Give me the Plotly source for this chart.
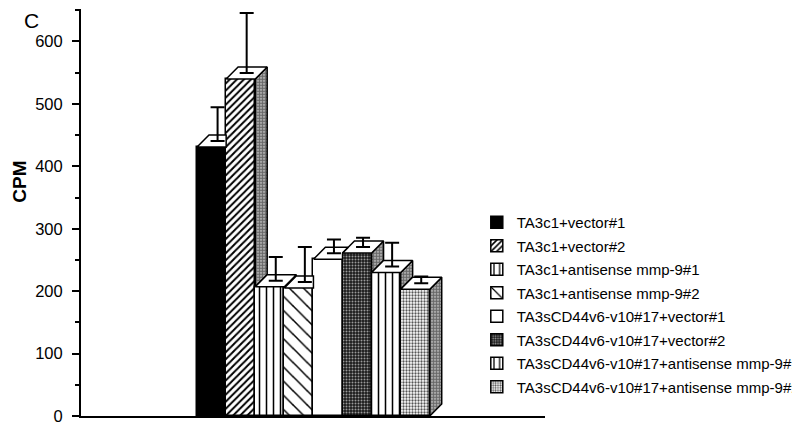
import plotly.graph_objects as go

names = ["TA3c1+vector#1", "TA3c1+vector#2", "TA3c1+antisense mmp-9#1",
         "TA3c1+antisense mmp-9#2", "TA3sCD44v6-v10#17+vector#1",
         "TA3sCD44v6-v10#17+vector#2", "TA3sCD44v6-v10#17+antisense mmp-9#1",
         "TA3sCD44v6-v10#17+antisense mmp-9#2"]
cpm = [431, 540, 207, 205, 251, 261, 230, 203]
err = [54, 96, 38, 56, 22, 15, 38, 11]

# fill styles per bar: (bgcolor, fgcolor, shape, size, solidity)
styles = [
    ("black", "black", "", 8, 0.3),
    ("white", "black", "/", 5, 0.4),
    ("white", "black", "|", 7, 0.22),
    ("white", "black", "\\", 10, 0.15),
    ("white", "black", "", 8, 0.3),
    ("#1a1a1a", "#9a9a9a", ".", 3, 0.35),
    ("white", "black", "|", 7, 0.22),
    ("white", "#555555", ".", 3, 0.45),
]

DX = 0.41   # depth offset along x (bar units)
DY = 19.2   # depth offset along y (CPM units)

fig = go.Figure()

for i, (n, v) in enumerate(zip(names, cpm)):
    bg, fg, shp, sz, sol = styles[i]
    fig.add_trace(go.Bar(
        x=[i], y=[v], width=1, name=n, legendgroup=n,
        marker=dict(color=bg, line=dict(color="black", width=1.5),
                    pattern=dict(shape=shp, bgcolor=bg, fgcolor=fg,
                                 size=sz, solidity=sol, fillmode="replace")),
        hoverinfo="skip"))

# side and top faces for the 3D look
sx, sy, tx, ty = [], [], [], []
for i, v in enumerate(cpm):
    x0, x1 = i - 0.5, i + 0.5
    nxt = cpm[i + 1] if i + 1 < len(cpm) else 0
    if nxt < v:
        sx += [x1, x1 + DX, x1 + DX, x1, x1, None]
        sy += [nxt, nxt + DY, v + DY, v, nxt, None]
    if nxt <= v:
        tx += [x0, x0 + DX, x1 + DX, x1, x0, None]
        ty += [v, v + DY, v + DY, v, v, None]
    elif nxt >= v + DY:
        tx += [x0, x0 + DX, x1, x1, x0, None]
        ty += [v, v + DY, v + DY, v, v, None]
    else:
        t = (v + DY - nxt) / DY
        tx += [x0, x0 + DX, x1 + t * DX, x1, x1, x0, None]
        ty += [v, v + DY, v + DY, nxt, v, v, None]

fig.add_trace(go.Scatter(
    x=sx, y=sy, mode="lines", fill="toself", showlegend=False,
    line=dict(color="black", width=1.5), fillcolor="#555555",
    fillpattern=dict(shape=".", bgcolor="#d0d0d0", fgcolor="black", size=3, solidity=0.7),
    hoverinfo="skip"))
fig.add_trace(go.Scatter(
    x=tx, y=ty, mode="lines", fill="toself", showlegend=False,
    line=dict(color="black", width=1.5), fillcolor="white", hoverinfo="skip"))

# error bars rise from the centre of the top face
fig.add_trace(go.Scatter(
    x=[i + DX / 2 for i in range(len(cpm))],
    y=[v + DY / 2 for v in cpm],
    mode="markers", marker=dict(size=1, color="rgba(0,0,0,0)"),
    showlegend=False, hoverinfo="skip",
    error_y=dict(type="data", array=err, arrayminus=[0] * len(err),
                 symmetric=False, color="black", thickness=2, width=7)))

fig.add_annotation(text="C", xref="paper", yref="paper", x=-0.106, y=1.0025,
                   xanchor="center", yanchor="top", borderpad=0,
                   showarrow=False, font=dict(size=21, color="black"))
fig.add_annotation(text="<b>CPM</b>", xref="paper", yref="paper", x=-0.132, y=0.575,
                   xanchor="center", yanchor="middle", borderpad=0,
                   textangle=-90, showarrow=False, font=dict(size=19, color="black"))

# page body adds an 8px offset, so the figure is 8px smaller each way
fig.update_layout(
    width=792, height=417,
    margin=dict(l=73, r=255, t=1, b=9, autoexpand=False),
    paper_bgcolor="white", plot_bgcolor="white",
    font=dict(family="Liberation Sans, Arial, sans-serif", color="black"),
    bargap=0, showlegend=True,
    legend=dict(x=0.853, y=0.516, xanchor="left", yanchor="top",
                font=dict(size=15), tracegroupgap=1, traceorder="grouped",
                bgcolor="rgba(0,0,0,0)"),
    xaxis=dict(range=[-4.49, 11.46], showline=True, linewidth=2, linecolor="black",
               showticklabels=False, ticks="", showgrid=False, zeroline=False),
    yaxis=dict(range=[0, 652], showline=True, linewidth=2, linecolor="black",
               tickvals=[0, 100, 200, 300, 400, 500, 600], ticks="outside",
               ticklen=7, tickwidth=2, tickcolor="black", showgrid=False,
               zeroline=False, tickfont=dict(size=16.5), ticklabelstandoff=6,
               ticklabeloverflow="allow",
               minor=dict(tickvals=[50, 150, 250, 350, 450, 550, 650], ticks="outside",
                          ticklen=4, tickwidth=2, tickcolor="black", showgrid=False)),
)

fig.write_html("out.html")
